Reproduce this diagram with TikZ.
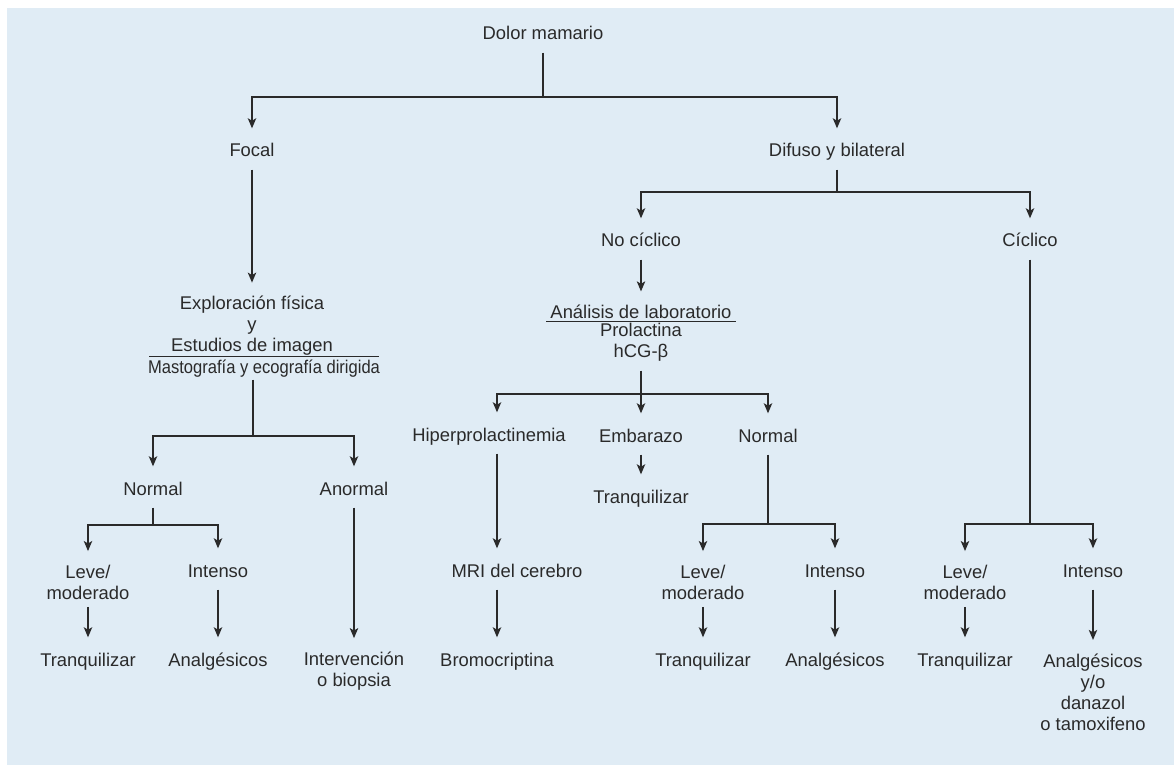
\documentclass[tikz,border=0pt]{standalone}
\usepackage{fontspec}
\setmainfont{Liberation Sans}
\usetikzlibrary{arrows.meta}
\definecolor{bgblue}{HTML}{E0ECF5}
\definecolor{ink}{HTML}{2A2A2A}
\tikzset{
  every node/.style={font=\fontsize{9.2}{10.5}\selectfont, text=ink, inner xsep=2pt, inner ysep=3.5pt},
  lbl/.style={text height=0.75em, text depth=0.25em},
  multi/.style={align=center},
  arr/.style={-{Stealth[length=5pt,width=4.2pt,inset=1.2pt]}, shorten >=3pt},
}
\begin{document}
\begin{tikzpicture}[x=0.5pt, y=-0.5pt, line width=0.7pt, color=ink]
    \useasboundingbox (0,0) rectangle (1174,765);
    \fill[bgblue] (7,8) rectangle (1174,765);

    \node[lbl] (dolor) at (543,35) {Dolor mamario};
    \node[lbl] (focal) at (252,152) {Focal};
    \node[lbl] (difuso) at (837,152) {Difuso y bilateral};

    \node[multi] (explor) at (252,326) {Exploración física\\y\\Estudios de imagen};
    \node[lbl, inner ysep=0.5pt, inner xsep=0pt] (masto) at (264,368) {\scalebox{0.9}[1]{Mastografía y ecografía dirigida}};
    \node[lbl] (normA) at (153,490) {Normal};
    \node[lbl] (anormal) at (354,490) {Anormal};
    \node[multi] (leveA) at (88,582) {Leve/\\moderado};
    \node[lbl] (intA) at (218,572) {Intenso};
    \node[lbl] (tranqA) at (88,661) {Tranquilizar};
    \node[lbl] (analgA) at (218,661) {Analgésicos};
    \node[multi] (interv) at (354,671) {Intervención\\o biopsia};

    \node[lbl] (nocicl) at (641,242) {No cíclico};
    \node[lbl] (cicl) at (1030,242) {Cíclico};
    \node[inner ysep=3pt] (lab) at (641,334) {\begin{tabular}{@{\hspace{2pt}}c@{\hspace{2pt}}}Análisis de laboratorio\\[-2pt]\hline Prolactina\\hCG-β\end{tabular}};
    \node[lbl] (hiper) at (489,436) {Hiperprolactinemia};
    \node[lbl] (embar) at (641,437) {Embarazo};
    \node[lbl] (normB) at (768,437) {Normal};
    \node[lbl] (tranqB) at (641,498) {Tranquilizar};
    \node[lbl] (mri) at (517,572) {MRI del cerebro};
    \node[lbl] (bromo) at (497,661) {Bromocriptina};
    \node[multi] (leveB) at (703,582) {Leve/\\moderado};
    \node[lbl] (intB) at (835,572) {Intenso};
    \node[lbl] (tranqC) at (703,661) {Tranquilizar};
    \node[lbl] (analgB) at (835,661) {Analgésicos};
    \node[multi] (leveC) at (965,582) {Leve/\\moderado};
    \node[lbl] (intC) at (1093,572) {Intenso};
    \node[lbl] (tranqD) at (965,661) {Tranquilizar};
    \node[multi] (analgC) at (1093,692) {Analgésicos\\y/o\\danazol\\o tamoxifeno};

    \coordinate (j0) at (543,97);
    \coordinate (j1) at (253,436);
    \coordinate (j2) at (153,525);
    \coordinate (j3) at (837,192);
    \coordinate (j4) at (641,394);
    \coordinate (j5) at (768,524);
    \coordinate (j6) at (1030,524);

    \draw (dolor) -- (j0);
    \draw[arr] (j0) -| (focal);
    \draw[arr] (j0) -| (difuso);

    \draw[arr] (focal) -- (explor);
    \draw ([xshift=1pt]masto.north west) -- ([xshift=-1pt]masto.north east);
    \draw (masto.south -| j1) -- (j1);
    \draw[arr] (j1) -| (normA);
    \draw[arr] (j1) -| (anormal);
    \draw (normA) -- (j2);
    \draw[arr] (j2) -| (leveA);
    \draw[arr] (j2) -| (intA);
    \draw[arr] (leveA) -- (tranqA);
    \draw[arr] (intA) -- (analgA);
    \draw[arr] (anormal) -- (interv);

    \draw (difuso) -- (j3);
    \draw[arr] (j3) -| (nocicl);
    \draw[arr] (j3) -| (cicl);
    \draw[arr] (nocicl) -- (lab);
    \draw[arr] (lab) -- (embar);
    \draw[arr] (j4) -| (hiper.north -| bromo);
    \draw[arr] (j4) -| (normB);
    \draw[arr] (hiper.south -| bromo) -- (mri.north -| bromo);
    \draw[arr] (mri.south -| bromo) -- (bromo);
    \draw[arr] (embar) -- (tranqB);
    \draw (normB) -- (j5);
    \draw[arr] (j5) -| (leveB);
    \draw[arr] (j5) -| (intB);
    \draw[arr] (leveB) -- (tranqC);
    \draw[arr] (intB) -- (analgB);

    \draw (cicl) -- (j6);
    \draw[arr] (j6) -| (leveC);
    \draw[arr] (j6) -| (intC);
    \draw[arr] (leveC) -- (tranqD);
    \draw[arr] (intC) -- (analgC);
\end{tikzpicture}
\end{document}
